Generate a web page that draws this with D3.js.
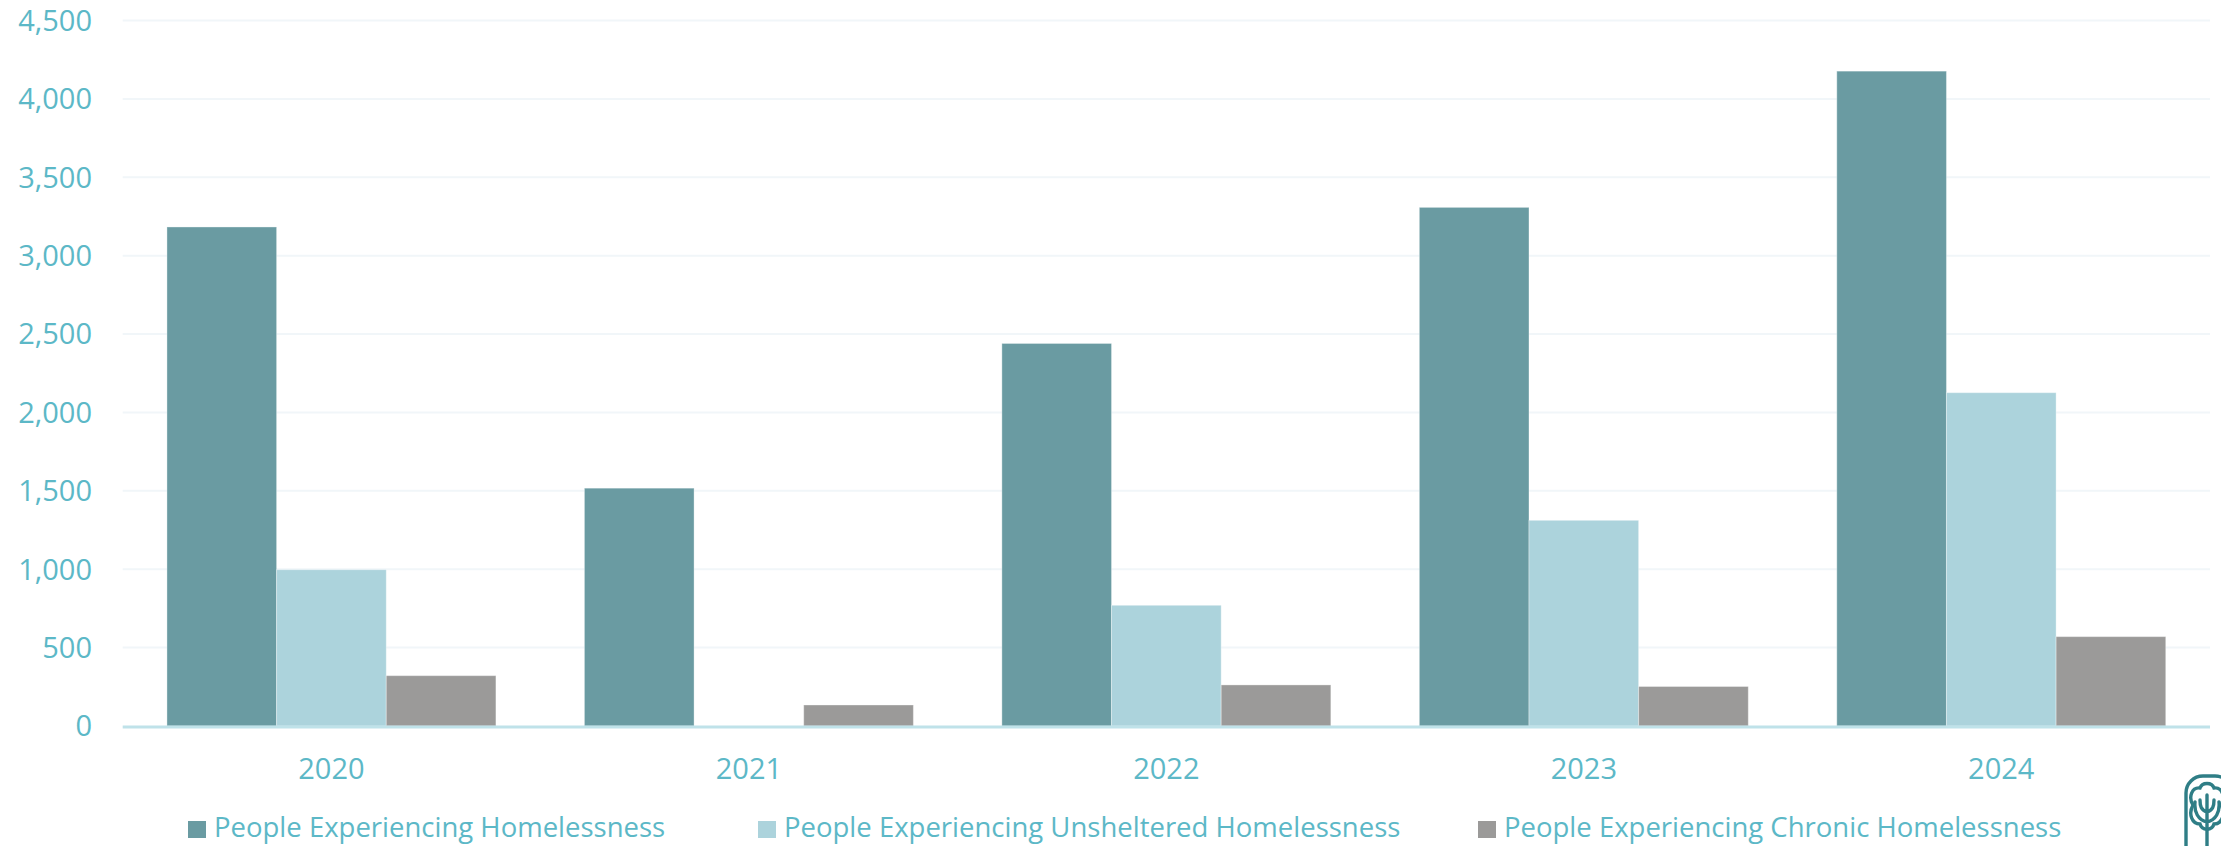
<!DOCTYPE html>
<html>
<head>
<meta charset="utf-8">
<script src="https://cdn.jsdelivr.net/npm/d3@7"></script>
<style>
  html, body { margin: 0; padding: 0; background: #fff; }
  svg { display: block; font-family: "Open Sans", sans-serif; }
</style>
</head>
<body>
<svg id="chart" width="2221" height="846"></svg>
<script>
// Data
var years = ["2020", "2021", "2022", "2023", "2024"];
var seriesNames = [
  "People Experiencing Homelessness",
  "People Experiencing Unsheltered Homelessness",
  "People Experiencing Chronic Homelessness"
];
var homeless = [3183, 1517, 2440, 3308, 4177];
var unsheltered = [997, null, 770, 1312, 2126];
var chronic = [321, 134, 262, 252, 570];
var yTicks = [0, 500, 1000, 1500, 2000, 2500, 3000, 3500, 4000, 4500];

var seriesValues = [homeless, unsheltered, chronic];
var colors = ["#6a9ba2", "#acd3dc", "#9b9a99"];

// Layout
var W = 2221, H = 846;
var plot = { left: 122.7, right: 2210, top: 20.5, bottom: 726 };
var labelColor = "#5cb8c7";

var svg = d3.select("#chart");

// Scales
var y = d3.scaleLinear()
  .domain([0, 4500])
  .range([plot.bottom, plot.top]);

var x0 = d3.scaleBand()
  .domain(years)
  .range([plot.left, plot.right])
  .paddingInner(0.212)
  .paddingOuter(0.106);

var x1 = d3.scaleBand()
  .domain(seriesNames)
  .range([0, x0.bandwidth()]);

// Gridlines
var grid = svg.append("g").attr("class", "grid");
yTicks.filter(function(t) { return t > 0; }).forEach(function(t) {
  grid.append("line")
    .attr("x1", plot.left)
    .attr("x2", plot.right)
    .attr("y1", y(t))
    .attr("y2", y(t))
    .style("stroke", "#f1f6f9")
    .style("stroke-width", 2);
});

// Y-axis labels
var fmt = d3.format(",");
svg.append("g").attr("class", "y-labels")
  .selectAll("text")
  .data(yTicks)
  .enter().append("text")
    .attr("x", 92)
    .attr("y", function(d) { return y(d); })
    .attr("dy", "0.36em")
    .style("text-anchor", "end")
    .style("font-size", "29px")
    .style("fill", labelColor)
    .text(function(d) { return fmt(d); });

// Bars
var rows = [];
years.forEach(function(yr, i) {
  seriesNames.forEach(function(s, j) {
    if (seriesValues[j][i] != null) {
      rows.push({ year: yr, series: s, idx: j, value: seriesValues[j][i] });
    }
  });
});

svg.append("g").attr("class", "bars")
  .selectAll("rect")
  .data(rows)
  .enter().append("rect")
    .attr("x", function(d) { return x0(d.year) + x1(d.series); })
    .attr("y", function(d) { return y(d.value); })
    .attr("width", x1.bandwidth())
    .attr("height", function(d) { return y(0) - y(d.value); })
    .style("fill", function(d) { return colors[d.idx]; })
    .style("stroke", "#ffffff")
    .style("stroke-opacity", 0.35)
    .style("stroke-width", 1);

// Baseline
svg.append("line")
  .attr("x1", plot.left)
  .attr("x2", plot.right)
  .attr("y1", y(0) + 1)
  .attr("y2", y(0) + 1)
  .style("stroke", "#bfe2e9")
  .style("stroke-width", 3);

// X-axis labels
svg.append("g").attr("class", "x-labels")
  .selectAll("text")
  .data(years)
  .enter().append("text")
    .attr("x", function(d) { return x0(d) + x0.bandwidth() / 2; })
    .attr("y", 769)
    .attr("dy", "0.36em")
    .style("text-anchor", "middle")
    .style("font-size", "29px")
    .style("fill", labelColor)
    .text(function(d) { return d; });

// Legend
var legendX = [188, 758, 1478];
var legend = svg.append("g").attr("class", "legend");
seriesNames.forEach(function(s, j) {
  var g = legend.append("g")
    .attr("transform", "translate(" + legendX[j] + " 837)");
  g.append("rect")
    .attr("x", 0)
    .attr("y", -16)
    .attr("width", 18)
    .attr("height", 17)
    .style("fill", colors[j]);
  g.append("text")
    .attr("x", 26)
    .attr("y", 0)
    .style("font-size", "27.5px")
    .style("fill", labelColor)
    .text(s);
});

// Logo (tree mark, cropped at the corner)
var logo = svg.append("g")
  .attr("class", "logo")
  .style("fill", "none")
  .style("stroke", "#2f7e86")
  .style("stroke-width", 3.4)
  .style("stroke-linecap", "round");
logo.append("rect")
  .attr("x", 2186)
  .attr("y", 776)
  .attr("width", 46)
  .attr("height", 110)
  .attr("rx", 17);
logo.append("path")
  .attr("d", "M2193,805 C2188,797 2192,787 2200,788 C2202,782 2212,782 2214,788 C2222,787 2226,797 2221,805 C2226,814 2222,824 2214,824 C2212,831 2202,831 2200,824 C2192,824 2188,814 2193,805 Z");
logo.append("path")
  .attr("d", "M2207,795 L2207,846 M2207,822 C2198,820 2194,812 2195,802 M2207,822 C2216,820 2220,812 2219,802 M2207,812 C2201,810 2200,806 2200,800 M2207,812 C2213,810 2214,806 2214,800");
</script>
</body>
</html>
